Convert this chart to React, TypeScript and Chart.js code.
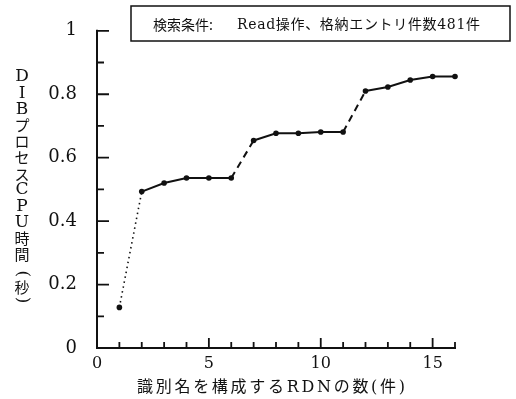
import React, { useEffect, useRef } from "react";
import { Chart, registerables } from "chart.js";

Chart.register(...registerables);

const XS = [1, 2, 3, 4, 5, 6, 7, 8, 9, 10, 11, 12, 13, 14, 15, 16];
const YS = [0.128, 0.493, 0.52, 0.536, 0.536, 0.536, 0.654, 0.677, 0.677, 0.681, 0.681, 0.81, 0.823, 0.845, 0.856, 0.856];
const X_TICKS = [0, 5, 10, 15];
const X_MINOR = [1, 2, 3, 4, 5, 6, 7, 8, 9, 10, 11, 12, 13, 14, 15, 16];
const Y_TICKS = [0, 0.2, 0.4, 0.6, 0.8, 1];
const Y_MINOR = [0.1, 0.2, 0.3, 0.4, 0.5, 0.6, 0.7, 0.8, 0.9, 1.0];
const DOTTED_SEGMENTS = [0];
const DASHED_SEGMENTS = [5, 10];
const BOX_LABEL_A = "検索条件:";
const BOX_LABEL_B = "Read操作、格納エントリ件数481件";
const X_TITLE = "識別名を構成するRDNの数(件)";
const Y_TITLE = ["D", "I", "B", "プ", "ロ", "セ", "ス", "C", "P", "U", "時", "間", "(", "秒", ")"];

const INK = "#111";
const SERIF = "'DejaVu Serif', 'Noto Sans CJK JP', serif";
const CJK = "'Noto Sans CJK JP', 'DejaVu Serif', sans-serif";

function fitText(ctx: CanvasRenderingContext2D, text: string, x: number, y: number, width: number) {
  ctx.save();
  (ctx as any).letterSpacing = "0px";
  const w = ctx.measureText(text).width;
  const n = Array.from(text).length;
  const ls = n > 1 ? (width - w) / (n - 1) : 0;
  (ctx as any).letterSpacing = ls + "px";
  ctx.textAlign = "left";
  ctx.fillText(text, x, y);
  ctx.restore();
}

const decor = {
  id: "decor",
  afterDraw(chart: any) {
    const ctx: CanvasRenderingContext2D = chart.ctx;
    const xs = chart.scales.x;
    const ys = chart.scales.y;
    const x0 = xs.getPixelForValue(0);
    const xEnd = xs.getPixelForValue(16);
    const y0 = ys.getPixelForValue(0);
    const yTop = ys.getPixelForValue(1);
    ctx.save();
    ctx.strokeStyle = INK;
    ctx.lineWidth = 2;
    ctx.lineCap = "square";
    ctx.beginPath();
    ctx.moveTo(x0, yTop);
    ctx.lineTo(x0, y0);
    ctx.lineTo(xEnd, y0);
    ctx.stroke();
    ctx.lineWidth = 1.8;
    ctx.lineCap = "butt";
    ctx.beginPath();
    Y_MINOR.forEach((v, i) => {
      const p = ys.getPixelForValue(v);
      const major = i % 2 === 1;
      ctx.moveTo(x0, p);
      ctx.lineTo(x0 + (major ? 12 : 7), p);
    });
    X_MINOR.forEach((v) => {
      const p = xs.getPixelForValue(v);
      const major = v % 5 === 0;
      ctx.moveTo(p, y0);
      ctx.lineTo(p, y0 - (major ? 10 : 6));
    });
    ctx.stroke();

    // box title
    ctx.lineWidth = 1.5;
    ctx.strokeRect(131, 6, 379, 35);
    ctx.fillStyle = INK;
    ctx.textBaseline = "middle";
    ctx.font = "14px " + CJK;
    fitText(ctx, BOX_LABEL_A, 153, 25, 60);
    ctx.font = "14px " + SERIF;
    fitText(ctx, BOX_LABEL_B, 237, 25, 243);

    // x title
    ctx.font = "16px " + SERIF;
    fitText(ctx, X_TITLE, 137, 388, 268);

    // y title stacked (upright characters, parentheses turned)
    ctx.textAlign = "center";
    const step = (303 - 77) / (Y_TITLE.length - 1);
    Y_TITLE.forEach((c, i) => {
      const y = 77 + i * step;
      if (c === "(" || c === ")") {
        ctx.save();
        ctx.translate(22, y + (c === "(" ? 3 : -3));
        ctx.rotate(Math.PI / 2);
        ctx.font = "17px " + SERIF;
        ctx.fillText(c, 0, 0);
        ctx.restore();
        return;
      }
      const latin = /[A-Z]/.test(c);
      ctx.font = (latin ? "17px " : "15px ") + (latin ? SERIF : CJK);
      ctx.fillText(c, 22, y);
    });
    ctx.restore();
  },
};

export default function App() {
  const ref = useRef<HTMLCanvasElement>(null);
  useEffect(() => {
    if (!ref.current) return;
    const chart = new Chart(ref.current, {
      type: "line",
      data: {
        datasets: [
          {
            data: XS.map((x, i) => ({ x, y: YS[i] })),
            borderColor: INK,
            borderWidth: 2,
            pointRadius: 2.8,
            pointBackgroundColor: INK,
            pointBorderWidth: 0,
            clip: false as any,
            segment: {
              borderDash: (c: any) =>
                DOTTED_SEGMENTS.includes(c.p0DataIndex) ? [1.5, 3.5] : DASHED_SEGMENTS.includes(c.p0DataIndex) ? [7, 5] : undefined,
              borderWidth: (c: any) => (DOTTED_SEGMENTS.includes(c.p0DataIndex) ? 1.6 : undefined),
            },
          },
        ],
      },
      options: {
        animation: false,
        responsive: false,
        layout: { padding: { top: 21, right: 61, left: 0, bottom: 0 } },
        plugins: { legend: { display: false }, tooltip: { enabled: false }, title: { display: false } },
        scales: {
          x: {
            type: "linear",
            min: 0,
            max: 16,
            grid: { display: false, drawTicks: false },
            border: { display: false },
            afterBuildTicks: (s: any) => {
              s.ticks = X_TICKS.map((v) => ({ value: v }));
            },
            afterFit: (s: any) => {
              s.height = 51;
            },
            ticks: { font: { size: 16, family: SERIF }, color: INK, padding: 6, maxRotation: 0, callback: (v: any) => String(v) },
          },
          y: {
            type: "linear",
            min: 0,
            max: 1,
            grid: { display: false, drawTicks: false },
            border: { display: false },
            afterBuildTicks: (s: any) => {
              s.ticks = Y_TICKS.map((v) => ({ value: v }));
            },
            afterFit: (s: any) => {
              s.width = 97;
            },
            ticks: { font: { size: 18, family: SERIF }, color: INK, padding: 20, callback: (v: any) => String(v) },
          },
        },
      },
      plugins: [decor],
    });
    return () => chart.destroy();
  }, []);
  return (
    <div style={{ position: "fixed", left: 0, top: 0, width: 516, height: 399, background: "#fff" }}>
      <canvas ref={ref} width={516} height={399} />
    </div>
  );
}
